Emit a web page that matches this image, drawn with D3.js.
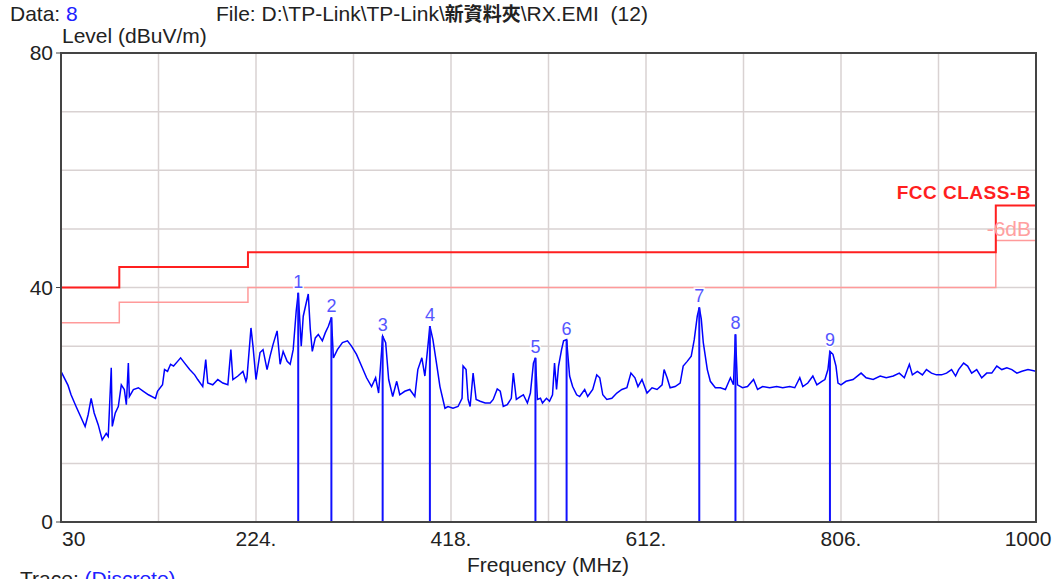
<!DOCTYPE html>
<meta charset="utf-8">
<script src="https://cdn.jsdelivr.net/npm/d3@7"></script>
<style>
body { margin: 0; background: #fff; }
text { font-family: "Liberation Sans", Arial, sans-serif; fill: #222; font-size: 21px; }
.grid line { stroke: #d9d2d2; stroke-width: 1.5px; }
.frame { fill: none; stroke: #444; stroke-width: 2px; }
.trace { fill: none; stroke: #0000ff; stroke-width: 1.5px; }
.limit { fill: none; stroke: #ff1f1f; stroke-width: 2px; }
.limit6 { fill: none; stroke: #ff9a9a; stroke-width: 1.5px; }
.mline { stroke: #1010ff; stroke-width: 2px; }
.mlabel { fill: #5555ff; font-size: 18px; paint-order: stroke; stroke: #fff; stroke-width: 3px; }
</style>
<body>
<div id="chart"></div>
<script>
// frequency (MHz) and level (dBuV/m) of the measured trace
var traceFreq = [30,37,40,45,54,57,60,63,67,71,75,77,80,81,84,87,90,93,95,97,98,102,107,112,117,124,126,131,133,136,139,142,146,149,153,158,163,166,171,174,176,181,186,191,196,199,201,206,211,214,215,219,221,224,
  228,231,235,238,241,245,248,251,255,258,261,264,266,269,271,274,276,278,280,283,286,290,293,296,299,301,305,310,315,319,324,329,334,339,343,346,350,353,356,360,364,367,372,377,382,385,389,392,394,397,400,404,407,412,
  415,420,425,429,430,433,435,437,440,443,447,452,457,460,464,467,470,474,478,480,483,487,490,494,497,500,502,504,507,509,513,516,519,521,523,525,528,530,533,536,539,543,546,551,554,559,563,566,569,573,578,583,588,593,597,
  601,604,608,613,618,623,628,630,633,636,641,646,649,653,657,660,663,665,667,669,673,676,681,686,691,696,699,701,703,708,713,719,723,728,735,742,748,755,760,765,768,773,778,782,787,790,793,795,798,801,803,806,811,
  818,826,831,838,845,851,858,864,869,874,877,882,887,891,896,901,906,911,916,920,923,928,932,936,941,946,951,956,961,966,971,976,981,986,992,1000];
var traceLevel = [25.7,23.3,21.7,19.7,16.3,18.3,21.1,18.6,16.6,14.0,15.1,14.6,26.3,16.3,18.6,19.7,23.4,22.6,20.0,27.1,21.4,22.6,22.9,22.3,21.7,21.1,22.3,23.4,26.0,25.7,26.9,26.6,27.4,28.0,27.1,26.0,25.1,24.3,23.1,27.7,23.7,23.4,24.3,23.7,23.4,29.4,24.3,24.9,25.7,24.0,24.6,33.1,30.0,24.3,
  28.9,29.4,26.0,28.3,30.3,32.6,26.9,29.1,27.4,26.9,29.4,36.0,39.1,30.0,35.1,37.4,38.9,32.9,29.1,31.4,32.0,30.9,32.3,33.4,34.9,28.0,29.4,30.6,30.9,30.0,28.6,26.6,24.6,23.1,24.6,22.0,31.7,30.6,24.3,21.4,24.0,21.7,22.3,22.6,21.4,26.0,28.0,24.9,28.3,33.4,31.1,26.6,23.1,19.4,
  19.7,19.4,19.7,21.1,26.6,26.0,20.9,19.7,25.4,20.9,20.6,20.3,20.3,20.9,22.7,22.3,19.7,20.0,21.1,25.4,20.9,21.4,21.7,20.3,22.0,27.1,28.0,20.9,21.1,20.3,21.1,20.6,21.7,27.1,22.6,26.6,29.4,30.9,31.1,24.9,23.1,21.7,21.4,22.6,21.4,22.6,25.1,24.6,21.7,20.9,21.1,22.0,22.6,22.9,25.4,
  24.6,23.1,24.3,22.0,22.9,22.6,23.4,26.0,24.6,22.9,23.1,23.7,26.6,27.4,28.3,31.1,35.1,36.6,34.6,30.6,26.0,24.0,22.9,22.9,22.6,24.6,23.4,32.0,23.4,22.9,23.1,24.3,22.6,23.1,22.9,23.1,22.9,23.1,22.9,24.6,23.1,23.7,24.9,23.4,24.0,24.3,26.0,29.1,28.6,26.6,23.7,23.4,24.0,
  24.3,25.4,24.6,24.3,24.9,24.6,24.9,25.4,24.6,26.9,25.1,25.7,25.1,26.0,25.4,25.1,25.1,25.4,26.0,24.9,26.0,27.1,26.6,25.4,26.0,24.6,25.4,25.4,26.6,26.0,26.3,26.0,25.4,25.7,26.0,25.7];

// marker peaks
var markerNo = [1,2,3,4,5,6,7,8,9];
var markerFreq = [266,299,350,397,502,533,665,701,795];
var markerLevel = [39.1,34.9,31.7,33.4,28.0,31.1,36.6,32.0,29.1];

// FCC class B limit (step) and the -6dB line
var limitFreq = [30,88,88,216,216,960,960,1000];
var limitLevel = [40,40,43.5,43.5,46,46,54,54];
var limit6Level = [34,34,37.5,37.5,40,40,48,48];

var xTicks = [30,224,418,612,806,1000];
var xTickLabels = ["30","224.","418.","612.","806.","1000"];
var yTicks = [0,40,80];

var width = 1057, height = 579;
var mLeft = 61, mRight = 1036, mTop = 53, mBottom = 522;

var svg = d3.select("#chart").append("svg")
  .attr("width", width)
  .attr("height", height);

var x = d3.scaleLinear().domain([30, 1000]).range([mLeft, mRight]);
var y = d3.scaleLinear().domain([0, 80]).range([mBottom, mTop]);

// grid
var grid = svg.append("g").attr("class", "grid");
grid.selectAll("line.v")
  .data(d3.range(1, 10).map(function(i) { return 30 + i * 97; }))
  .enter().append("line")
  .attr("x1", function(d) { return x(d); })
  .attr("x2", function(d) { return x(d); })
  .attr("y1", mTop).attr("y2", mBottom);
grid.selectAll("line.h")
  .data(d3.range(10, 80, 10))
  .enter().append("line")
  .attr("x1", mLeft).attr("x2", mRight)
  .attr("y1", function(d) { return y(d); })
  .attr("y2", function(d) { return y(d); });

// limit lines
var line = d3.line()
  .x(function(d) { return x(d[0]); })
  .y(function(d) { return y(d[1]); });
svg.append("path").attr("class", "limit6")
  .attr("d", line(d3.zip(limitFreq, limit6Level)));
svg.append("path").attr("class", "limit")
  .attr("d", line(d3.zip(limitFreq, limitLevel)));

// trace
svg.append("path").attr("class", "trace")
  .attr("d", line(d3.zip(traceFreq, traceLevel)));

// markers
svg.selectAll("line.mline")
  .data(markerFreq)
  .enter().append("line")
  .attr("class", "mline")
  .attr("x1", function(d) { return x(d); })
  .attr("x2", function(d) { return x(d); })
  .attr("y1", function(d, i) { return y(markerLevel[i]); })
  .attr("y2", mBottom);
svg.selectAll("text.mlabel")
  .data(markerNo)
  .enter().append("text")
  .attr("class", "mlabel")
  .attr("text-anchor", "middle")
  .attr("x", function(d, i) { return x(markerFreq[i]); })
  .attr("y", function(d, i) { return y(markerLevel[i]) - 5; })
  .text(function(d) { return d; });

// frame
svg.append("rect").attr("class", "frame")
  .attr("x", mLeft).attr("y", mTop)
  .attr("width", mRight - mLeft).attr("height", mBottom - mTop);

// y axis labels
svg.selectAll("text.ytick")
  .data(yTicks)
  .enter().append("text")
  .attr("text-anchor", "end")
  .attr("x", mLeft - 8)
  .attr("y", function(d) { return y(d) + 7; })
  .text(function(d) { return d; });
svg.selectAll("line.ytickmark")
  .data(yTicks)
  .enter().append("line")
  .attr("x1", mLeft - 5).attr("x2", mLeft)
  .attr("y1", function(d) { return y(d); })
  .attr("y2", function(d) { return y(d); })
  .attr("stroke", "#444");

// x axis labels
svg.selectAll("text.xtick")
  .data(xTicks)
  .enter().append("text")
  .attr("text-anchor", function(d, i) { return i == 0 ? "start" : "middle"; })
  .attr("x", function(d, i) { return i == 0 ? mLeft + 1 : (i == xTicks.length - 1 ? x(d) - 8 : x(d)); })
  .attr("y", 546)
  .text(function(d, i) { return xTickLabels[i]; });

svg.append("text")
  .attr("text-anchor", "middle")
  .attr("x", 548).attr("y", 572)
  .text("Frequency (MHz)");

svg.append("text")
  .attr("x", 62).attr("y", 43)
  .text("Level (dBuV/m)");

// header
var hdr = svg.append("text").attr("x", 10).attr("y", 21);
hdr.append("tspan").text("Data: ");
hdr.append("tspan").style("fill", "#2020ff").text("8");

var file = svg.append("text").attr("x", 216).attr("y", 21);
file.append("tspan").text("File: D:\\TP-Link\\TP-Link\\");
file.append("tspan").style("font-family", "'Noto Sans CJK TC', sans-serif").style("font-weight", "bold").style("font-size", "19px").text("新資料夾");
file.append("tspan").text("\\RX.EMI\u00a0 (12)");

// trace footer
var tr = svg.append("text").attr("x", 20).attr("y", 586);
tr.append("tspan").text("Trace: ");
tr.append("tspan").style("fill", "#2020ff").text("(Discrete)");

// limit labels
svg.append("text")
  .attr("text-anchor", "end")
  .attr("x", 1031).attr("y", 199)
  .style("font-size", "19px").style("font-weight", "bold")
  .style("letter-spacing", "0.5px")
  .style("fill", "#ff1f1f")
  .text("FCC CLASS-B");
svg.append("text")
  .attr("text-anchor", "end")
  .attr("x", 1031).attr("y", 236)
  .style("fill", "#ffa0a0")
  .text("-6dB");
</script>
</body>
</html>
